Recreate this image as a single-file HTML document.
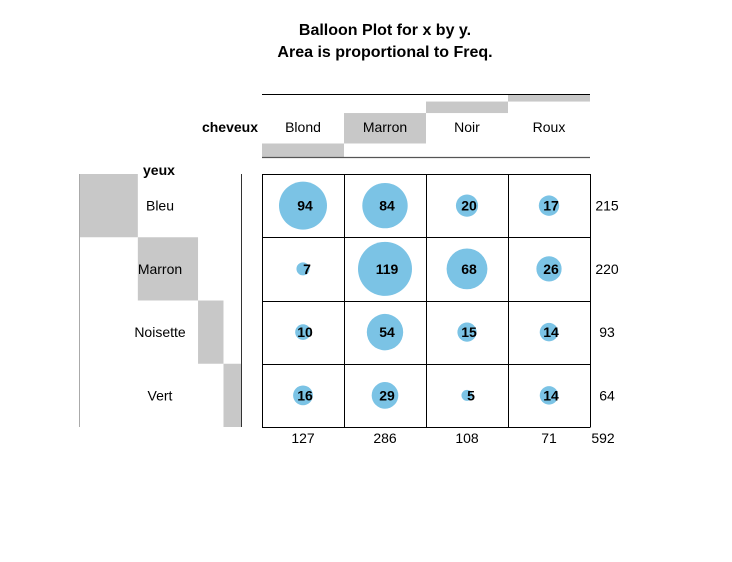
<!DOCTYPE html>
<html><head><meta charset="utf-8"><style>
body{margin:0;background:#fff}
svg text{font-family:"Liberation Sans",Arial,sans-serif}
</style></head><body>
<svg id="c" width="732" height="557">
<text x="385" y="35" text-anchor="middle" font-size="16" font-weight="bold">Balloon Plot for x by y.</text>
<text x="385" y="57" text-anchor="middle" font-size="16" font-weight="bold">Area is proportional to Freq.</text>
<text x="258" y="132" text-anchor="end" font-size="14" font-weight="bold">cheveux</text>
<text x="143" y="175" font-size="14" font-weight="bold">yeux</text>
<g id="g"></g>
</svg>
<script>
const cols=["Blond","Marron","Noir","Roux"];
const rows=["Bleu","Marron","Noisette","Vert"];
const freqBleu=[94,84,20,17];
const freqMarron=[7,119,68,26];
const freqNoisette=[10,54,15,14];
const freqVert=[16,29,5,14];
const freq=[freqBleu,freqMarron,freqNoisette,freqVert];

const NS="http://www.w3.org/2000/svg",g=document.getElementById('g');
function mk(t,a,txt){const e=document.createElementNS(NS,t);for(const k in a)e.setAttribute(k,a[k]);if(txt!=null)e.textContent=txt;g.appendChild(e);return e;}
const X0=262,CW=82,Y0=174,RH=63.25;
const colTot=cols.map((c,j)=>freq.reduce((s,r)=>s+r[j],0));
const rowTot=freq.map(r=>r.reduce((a,b)=>a+b,0));
const total=rowTot.reduce((a,b)=>a+b,0);
const maxV=Math.max(...freq.flat());
const cx=j=>X0+CW*j+CW/2, cy=i=>Y0+RH*i+RH/2;
// column marginal bars
let cum=0;
cols.forEach((c,j)=>{const h=colTot[j]/total*63;
 let e=mk('rect',{x:X0+CW*j,y:157-cum-h,width:CW,height:h,fill:'#c8c8c8'});
 
 cum+=h;
 e=mk('text',{x:cx(j),y:132,'text-anchor':'middle','font-size':14},c);
 
 e=mk('text',{x:cx(j),y:443,'text-anchor':'middle','font-size':14},colTot[j]);
 
});
let l=mk('line',{x1:X0,x2:590,y1:94.5,y2:94.5,stroke:'#000'});

l=mk('line',{x1:X0,x2:590,y1:157.5,y2:157.5,stroke:'#555','stroke-width':1.2});

// row marginal bars
let cx0=79;
rows.forEach((r,i)=>{const w=rowTot[i]/total*162;
 let e=mk('rect',{x:cx0,y:Y0+RH*i,width:w,height:RH,fill:'#c8c8c8'});
 
 cx0+=w;
 e=mk('text',{x:160,y:cy(i)+5,'text-anchor':'middle','font-size':14},r);
 
 e=mk('text',{x:607,y:cy(i)+5,'text-anchor':'middle','font-size':14},rowTot[i]);
 
});
l=mk('line',{x1:79.5,x2:79.5,y1:174,y2:427,stroke:'#aaa'});

l=mk('line',{x1:241.5,x2:241.5,y1:174,y2:427,stroke:'#333'});

let t=mk('text',{x:603,y:443,'text-anchor':'middle','font-size':14},total);

// grid
for(let j=0;j<=4;j++){const e=mk('line',{x1:X0+CW*j+.5,x2:X0+CW*j+.5,y1:Y0,y2:Y0+RH*4,stroke:'#000'});
 }
for(let i=0;i<=4;i++){const e=mk('line',{x1:X0,x2:590.5,y1:Math.round(Y0+RH*i)+.5,y2:Math.round(Y0+RH*i)+.5,stroke:'#000'});
 }
// balloons
freq.forEach((r,i)=>r.forEach((v,j)=>{
 const c=mk('circle',{cx:cx(j),cy:cy(i),r:27*Math.sqrt(v/maxV),fill:'#7bc3e5'});
 
 const off=v<10?4:2;
 const e=mk('text',{x:cx(j)+off,y:cy(i)+5,'text-anchor':'middle','font-size':14,'font-weight':'bold'},v);
 
}));
</script>
</body></html>
